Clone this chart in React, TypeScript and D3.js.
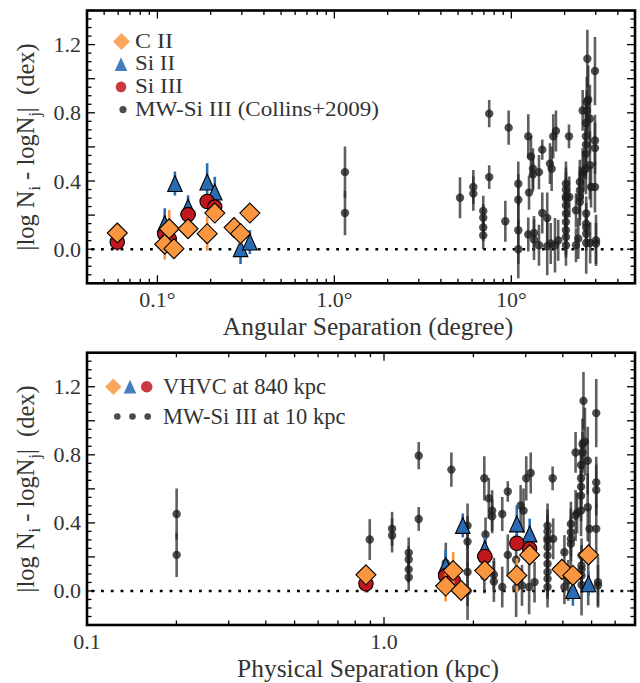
import React from "react";
import * as d3 from "d3";

// ---- data: [angular separation (deg), |logNi - logNj| (dex), error] ----
const C_II: [number, number, number][] = [
  [0.0593, 0.095, 0.03], [0.110, 0.029, 0.09], [0.1166, 0.12, 0.11], [0.124, 0.003, 0.05],
  [0.149, 0.12, 0.05], [0.191, 0.091, 0.1], [0.211, 0.212, 0.05], [0.271, 0.127, 0.06],
  [0.295, 0.091, 0.06], [0.333, 0.212, 0.04],
];
const SI_II: [number, number, number][] = [
  [0.110, 0.15, 0.09], [0.1256, 0.385, 0.07], [0.149, 0.247, 0.07], [0.191, 0.394, 0.11],
  [0.211, 0.335, 0.09], [0.295, 0.003, 0.09], [0.333, 0.042, 0.07],
];
const SI_III: [number, number, number][] = [
  [0.0593, 0.042, 0.05], [0.110, 0.09, 0.04], [0.1166, 0.062, 0.04], [0.149, 0.203, 0.04],
  [0.191, 0.28, 0.04], [0.211, 0.247, 0.04],
];
const MW_SI_III: [number, number, number][] = [
  [1.148, 0.452, 0.15], [1.148, 0.212, 0.13],
  [5.13, 0.302, 0.12],
  [6.10, 0.365, 0.10], [6.10, 0.326, 0.10],
  [6.94, 0.224, 0.09], [6.94, 0.185, 0.08], [6.94, 0.127, 0.08], [6.94, 0.081, 0.08],
  [7.50, 0.795, 0.08], [7.50, 0.423, 0.07],
  [9.25, 0.164, 0.12], [9.66, 0.713, 0.10],
  [10.95, 0.384, 0.13], [10.95, 0.29, 0.15], [10.95, 0.111, 0.2], [10.95, 0.0, 0.17],
  [12.47, 0.662, 0.13], [12.59, 0.332, 0.10], [12.91, 0.544, 0.12], [13.25, 0.472, 0.12],
  [13.25, 0.439, 0.10], [14.33, 0.452, 0.10],
  [12.47, 0.086, 0.10], [13.43, 0.095, 0.10], [13.43, 0.056, 0.12], [14.33, 0.023, 0.12],
  [14.96, 0.584, 0.06], [14.96, 0.212, 0.12], [15.96, 0.183, 0.15], [15.96, 0.017, 0.17],
  [16.53, 0.502, 0.12], [16.90, 0.472, 0.13], [17.26, 0.662, 0.13], [17.87, 0.693, 0.12],
  [16.7, 0.033, 0.12], [17.65, 0.023, 0.16], [18.41, 0.052, 0.12],
  [21.18, 0.662, 0.07],
  [20.36, 0.384, 0.13], [20.36, 0.349, 0.13], [20.36, 0.31, 0.14], [20.36, 0.297, 0.12],
  [20.36, 0.257, 0.14], [20.36, 0.209, 0.15], [20.36, 0.16, 0.13], [20.36, 0.111, 0.14],
  [20.36, 0.072, 0.12], [20.36, 0.023, 0.12],
  [21.27, 0.306, 0.12], [23.2, 0.228, 0.10], [23.2, 0.023, 0.10], [23.9, 0.062, 0.12],
  [24.4, 0.394, 0.13], [24.4, 0.345, 0.14], [24.4, 0.306, 0.13], [24.4, 0.277, 0.14],
  [25.3, 0.814, 0.12], [25.3, 0.443, 0.15], [25.6, 0.458, 0.12],
  [26.7, 0.863, 0.15], [26.7, 0.814, 0.12], [27.2, 0.877, 0.2],
  [26.4, 0.74, 0.15], [26.4, 0.662, 0.15], [26.4, 0.613, 0.13], [26.4, 0.56, 0.15], [26.4, 0.472, 0.15],
  [26.9, 1.117, 0.17], [27.8, 0.765, 0.2], [27.8, 0.492, 0.2], [28.2, 0.365, 0.12],
  [26.5, 0.209, 0.10], [26.5, 0.15, 0.12], [26.5, 0.127, 0.10], [26.5, 0.091, 0.10],
  [26.5, 0.036, 0.18], [27.9, 0.036, 0.12],
  [29.7, 1.045, 0.2], [29.7, 0.638, 0.15], [29.7, 0.593, 0.15], [29.7, 0.365, 0.15],
  [30.1, 0.052, 0.15], [30.1, 0.033, 0.12],
];

// distances used to convert angular to physical separation (kpc)
const VHVC_DIST_KPC = 840;
const MW_DIST_KPC = 10;

const TOP_X_TICKS = [0.1, 1, 10];
const TOP_X_LABELS = ["0.1°", "1.0°", "10°"];
const BOT_X_TICKS = [0.1, 1];
const BOT_X_LABELS = ["0.1", "1.0"];
const Y_TICKS = [0.0, 0.4, 0.8, 1.2];
const Y_LABELS = ["0.0", "0.4", "0.8", "1.2"];

const LEGEND_TOP = ["C II", "Si II", "Si III", "MW-Si III (Collins+2009)"];
const LEGEND_BOT = ["VHVC at 840 kpc", "MW-Si III at 10 kpc"];

const ORANGE = "#f9963f";
const BLUE = "#2a6cb3";
const RED = "#c0181e";
const FONT = "Liberation Serif, DejaVu Serif, serif";
const TXT = "#333";

const L = 87, R = 635;

function diamondPath(cx: number, cy: number, h: number) {
  return `M${cx},${cy - h}L${cx + h},${cy}L${cx},${cy + h}L${cx - h},${cy}Z`;
}
function trianglePath(cx: number, cy: number, s: number) {
  const hw = s * 0.5, hh = s * 0.55;
  return `M${cx},${cy - hh}L${cx + hw},${cy + hh}L${cx - hw},${cy + hh}Z`;
}

type PanelProps = {
  top: number; bottom: number;
  xDomain: [number, number];
  xTicks: number[]; xLabels: string[];
  conv: (deg: number) => number; mwConv: (deg: number) => number;
  xTitle: string;
  legend: "top" | "bottom";
};

const tStyle = (size: number): React.CSSProperties => ({ fontFamily: FONT, fontSize: size });

function Panel(p: PanelProps) {
  const x = d3.scaleLog().domain(p.xDomain).range([L, R]);
  const y = d3.scaleLinear().domain([-0.2, 1.4]).range([p.bottom, p.top]);

  const xt: { v: number; major: boolean }[] = [];
  for (let e = -3; e <= 3; e++) {
    for (let k = 1; k <= 9; k++) {
      const v = k * Math.pow(10, e);
      if (v >= p.xDomain[0] * 0.9999 && v <= p.xDomain[1] * 1.0001) xt.push({ v, major: k === 1 });
    }
  }
  const yt: { v: number; major: boolean }[] = [];
  for (let i = -4; i <= 28; i++) {
    yt.push({ v: i * 0.05, major: i % 4 === 0 });
  }

  const mw = MW_SI_III.map(([a, v, e]) => [p.mwConv(a), v, e]);
  const c2 = C_II.map(([a, v, e]) => [p.conv(a), v, e]);
  const s2 = SI_II.map(([a, v, e]) => [p.conv(a), v, e]);
  const s3 = SI_III.map(([a, v, e]) => [p.conv(a), v, e]);

  const clipId = `clip${Math.round(p.top)}`;
  const ylabY = (p.top + p.bottom) / 2;
  const legRows = [41.5, 64.2, 86.9, 109.6].map((py) => py - 10.5 + p.top);

  return (
    <g>
      <defs>
        <clipPath id={clipId}>
          <rect x={L} y={p.top} width={R - L} height={p.bottom - p.top} />
        </clipPath>
      </defs>
      <g clipPath={`url(#${clipId})`}>
        <line x1={x(p.xDomain[0])} x2={x(p.xDomain[1])} y1={y(0)} y2={y(0)}
          stroke="#000" strokeWidth={2.6} strokeDasharray="2.8,7" strokeDashoffset={-14} />
        {mw.map(([a, v, e], i) => (
          <line key={"mwe" + i} x1={x(a)} x2={x(a)} y1={y(v - e)} y2={y(v + e)}
            stroke="#2a2a2a" strokeOpacity={0.75} strokeWidth={2.6} />
        ))}
        {mw.map(([a, v], i) => (
          <circle key={"mwp" + i} cx={x(a)} cy={y(v)} r={4.2} fill="#1e1e1e" fillOpacity={0.78} />
        ))}
        {s2.map(([a, v, e], i) => (
          <line key={"s2e" + i} x1={x(a)} x2={x(a)} y1={y(v - e)} y2={y(v + e)} stroke={BLUE} strokeWidth={2.6} />
        ))}
        {s2.map(([a, v], i) => (
          <path key={"s2p" + i} d={trianglePath(x(a), y(v), 14.5)} fill={BLUE} stroke="#000" strokeWidth={1.1} />
        ))}
        {s3.map(([a, v, e], i) => (
          <line key={"s3e" + i} x1={x(a)} x2={x(a)} y1={y(v - e)} y2={y(v + e)} stroke={RED} strokeWidth={2.6} />
        ))}
        {s3.map(([a, v], i) => (
          <circle key={"s3p" + i} cx={x(a)} cy={y(v)} r={7.2} fill={RED} stroke="#000" strokeWidth={1.1} />
        ))}
        {c2.map(([a, v, e], i) => (
          <line key={"c2e" + i} x1={x(a)} x2={x(a)} y1={y(v - e)} y2={y(v + e)} stroke={ORANGE} strokeWidth={2.6} />
        ))}
        {c2.map(([a, v], i) => (
          <path key={"c2p" + i} d={diamondPath(x(a), y(v), 10)} fill={ORANGE} stroke="#000" strokeWidth={1.1} />
        ))}
      </g>

      {xt.map((t, i) => {
        const len = t.major ? 8 : 4.5;
        const xx = x(t.v);
        return (
          <g key={"xt" + i}>
            <line x1={xx} x2={xx} y1={p.bottom} y2={p.bottom - len} stroke="#000" strokeWidth={1.3} />
            <line x1={xx} x2={xx} y1={p.top} y2={p.top + len} stroke="#000" strokeWidth={1.3} />
          </g>
        );
      })}
      {yt.map((t, i) => {
        const len = t.major ? 8 : 4.5;
        const yy = y(t.v);
        return (
          <g key={"yt" + i}>
            <line x1={L} x2={L + len} y1={yy} y2={yy} stroke="#000" strokeWidth={1.3} />
            <line x1={R} x2={R - len} y1={yy} y2={yy} stroke="#000" strokeWidth={1.3} />
          </g>
        );
      })}
      <rect x={L} y={p.top} width={R - L} height={p.bottom - p.top} fill="none" stroke="#000" strokeWidth={2.6} />

      {p.xTicks.map((v, i) => (
        <text key={"xl" + i} x={x(v)} y={p.bottom + 23.5} textAnchor="middle" style={tStyle(22)} fill={TXT}>{p.xLabels[i]}</text>
      ))}
      {Y_TICKS.map((v, i) => (
        <text key={"yl" + i} x={L - 6} y={y(v) + 7.5} textAnchor="end" style={tStyle(22)} fill={TXT}>{Y_LABELS[i]}</text>
      ))}
      <text x={368} y={p.bottom + 51.5} textAnchor="middle" style={tStyle(25.5)} fill={TXT}>{p.xTitle}</text>
      <text transform={`translate(34,${ylabY}) rotate(-90)`} textAnchor="middle" style={tStyle(24.5)} fill={TXT}>
        <tspan>|log N</tspan>
        <tspan style={{ fontSize: 16 }} dy={6}>i</tspan>
        <tspan dy={-6}> - logN</tspan>
        <tspan style={{ fontSize: 16 }} dy={6}>j</tspan>
        <tspan dy={-6}>{"|\u00a0\u00a0(dex)"}</tspan>
      </text>

      {p.legend === "top" ? (
        <g fill={TXT}>
          <path d={diamondPath(121.5, legRows[0], 8.5)} fill={ORANGE} fillOpacity={0.85} />
          <text x={135} y={legRows[0] + 6} style={tStyle(20.3)} textLength={38} lengthAdjust="spacingAndGlyphs">{LEGEND_TOP[0]}</text>
          <path d={trianglePath(121, legRows[1], 12.5)} fill={BLUE} fillOpacity={0.88} />
          <text x={135} y={legRows[1] + 6} style={tStyle(20.3)} textLength={40} lengthAdjust="spacingAndGlyphs">{LEGEND_TOP[1]}</text>
          <circle cx={121} cy={legRows[2]} r={5.3} fill={RED} fillOpacity={0.85} />
          <text x={135} y={legRows[2] + 6} style={tStyle(20.3)} textLength={48} lengthAdjust="spacingAndGlyphs">{LEGEND_TOP[2]}</text>
          <circle cx={123} cy={legRows[3]} r={3.6} fill="#1e1e1e" fillOpacity={0.8} />
          <text x={135} y={legRows[3] + 6} style={tStyle(20.3)} textLength={244} lengthAdjust="spacingAndGlyphs">{LEGEND_TOP[3]}</text>
        </g>
      ) : (
        <g fill={TXT}>
          <path d={diamondPath(113.3, y(1.2), 8.2)} fill={ORANGE} fillOpacity={0.85} />
          <path d={trianglePath(130, y(1.2), 12.5)} fill={BLUE} fillOpacity={0.88} />
          <circle cx={146.7} cy={y(1.2)} r={5.8} fill={RED} fillOpacity={0.85} />
          <text x={163} y={y(1.2) + 7} style={tStyle(22.5)}>{LEGEND_BOT[0]}</text>
          <circle cx={117.3} cy={y(1.025)} r={3.3} fill="#1e1e1e" fillOpacity={0.8} />
          <circle cx={132.5} cy={y(1.025)} r={3.3} fill="#1e1e1e" fillOpacity={0.8} />
          <circle cx={147.7} cy={y(1.025)} r={3.3} fill="#1e1e1e" fillOpacity={0.8} />
          <text x={163} y={y(1.025) + 7} style={tStyle(22.5)}>{LEGEND_BOT[1]}</text>
        </g>
      )}
    </g>
  );
}

export default function App() {
  const deg2rad = Math.PI / 180;
  return (
    <svg width={640} height={683} style={{ position: "absolute", left: 0, top: 0, background: "#fff" }}>
      <rect width={640} height={683} fill="#fff" />
      <Panel top={10.5} bottom={283.3} xDomain={[0.04, 50]} xTicks={TOP_X_TICKS} xLabels={TOP_X_LABELS}
        conv={(a) => a} mwConv={(a) => a} xTitle="Angular Separation (degree)" legend="top" />
      <Panel top={352.7} bottom={625} xDomain={[0.1, 7]} xTicks={BOT_X_TICKS} xLabels={BOT_X_LABELS}
        conv={(a) => a * deg2rad * VHVC_DIST_KPC} mwConv={(a) => a * deg2rad * MW_DIST_KPC}
        xTitle="Physical Separation (kpc)" legend="bottom" />
    </svg>
  );
}
